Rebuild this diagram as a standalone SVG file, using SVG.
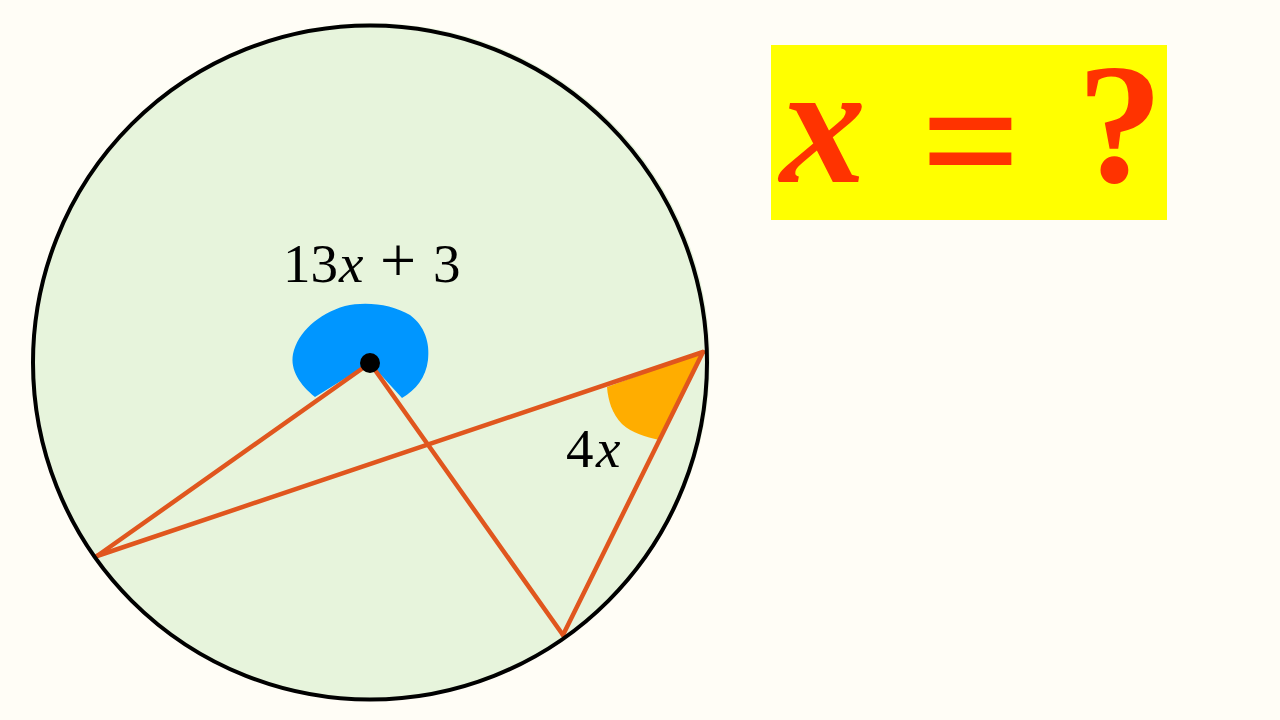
<svg xmlns="http://www.w3.org/2000/svg" width="1280" height="720" viewBox="0 0 1280 720">
<style>
.seg{stroke:#e0561e;stroke-width:4.5;stroke-linecap:round;fill:none}
.lbl{font-family:"Liberation Serif","Times New Roman",serif;font-size:55px;fill:#000}
.it{font-style:italic}
.big{font-family:"Liberation Serif","Times New Roman",serif;font-size:172px;font-weight:bold;fill:#ff3300;text-anchor:middle}
</style>
<rect width="1280" height="720" fill="#fffdf6"/>
<g id="circle">
<circle cx="372" cy="361" r="338" fill="#e7f4dc"/>
</g>
<g id="angle-center">
<path d="M370,363 L315,397 C300,385 290,370 293,354 C298,332 318,314 345,306 C365,301 392,304 410,315 C425,326 430,343 428,360 C426,377 416,390 402,398 Z" fill="#0096ff"/>
</g>
<g id="angle-c">
<path d="M703,352 L607,387 C608,400 612,414 622,424 C632,433 646,437 659,440 Z" fill="#ffad00"/>
</g>
<g id="connectors">
<line class="seg" x1="370" y1="363" x2="97" y2="556"/>
<line class="seg" x1="97" y1="556" x2="703" y2="352"/>
<line class="seg" x1="370" y1="363" x2="563" y2="635"/>
<line class="seg" x1="563" y1="635" x2="703" y2="352"/>
</g>
<g id="circle-outline">
<circle cx="370" cy="362.5" r="337" fill="none" stroke="#000" stroke-width="4"/>
</g>
<g id="center">
<circle cx="370" cy="363" r="10" fill="#000"/>
</g>
<g id="label-13x3">
<text class="lbl" y="282"><tspan x="283">13</tspan><tspan class="it" x="339">x</tspan><tspan x="380" font-size="64">+</tspan><tspan x="433">3</tspan></text>
</g>
<g id="label-4x">
<text class="lbl" y="467"><tspan x="566">4</tspan><tspan class="it" x="596">x</tspan></text>
</g>
<g id="question">
<rect x="771" y="45" width="396" height="175" fill="#ffff00"/>
<text class="big" y="182"><tspan class="it" x="823">x</tspan><tspan x="971" font-size="176" dy="18">=</tspan><tspan x="1120" dy="-18">?</tspan></text>
</g>
</svg>
